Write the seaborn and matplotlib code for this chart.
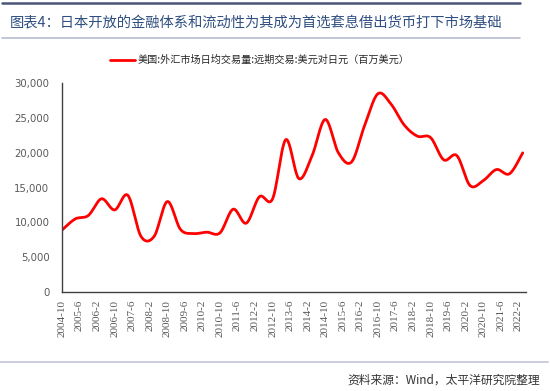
import numpy as np
import pandas as pd
import matplotlib
matplotlib.use("Agg")
import matplotlib.pyplot as plt
import seaborn as sns
from matplotlib.lines import Line2D
from matplotlib.ticker import FuncFormatter

# ── data (semi-annual survey, million USD) ──
periods = [
    "2004-10", "2005-4", "2005-10", "2006-4", "2006-10", "2007-4", "2007-10",
    "2008-4", "2008-10", "2009-4", "2009-10", "2010-4", "2010-10", "2011-4",
    "2011-10", "2012-4", "2012-10", "2013-4", "2013-10", "2014-4", "2014-10",
    "2015-4", "2015-10", "2016-4", "2016-10", "2017-4", "2017-10", "2018-4",
    "2018-10", "2019-4", "2019-10", "2020-4", "2020-10", "2021-4", "2021-10",
    "2022-4",
]
values = [
    8900, 10500, 11000, 13400, 11800, 13900, 8000,
    8000, 13000, 9000, 8400, 8600, 8500, 11900,
    9900, 13700, 13400, 21900, 16300, 19600, 24800,
    20000, 18700, 24000, 28500, 27000, 24000, 22400,
    22200, 19000, 19600, 15300, 16000, 17600, 17000,
    20000,
]
tick_labels = [
    "2004-10", "2005-6", "2006-2", "2006-10", "2007-6", "2008-2", "2008-10",
    "2009-6", "2010-2", "2010-10", "2011-6", "2012-2", "2012-10", "2013-6",
    "2014-2", "2014-10", "2015-6", "2016-2", "2016-10", "2017-6", "2018-2",
    "2018-10", "2019-6", "2020-2", "2020-10", "2021-6", "2022-2",
]
series_name = "美国:外汇市场日均交易量:远期交易:美元对日元（百万美元）"
title = "图表4：日本开放的金融体系和流动性为其成为首选套息借出货币打下市场基础"
source = "资料来源：Wind，太平洋研究院整理"

sns.set_theme(style="white")
plt.rcParams["font.family"] = ["Noto Sans CJK SC", "DejaVu Sans"]
plt.rcParams["hatch.color"] = "#e2e2e2"
plt.rcParams["hatch.linewidth"] = 0.8


def month_index(p, base="2004-10"):
    y, m = map(int, p.split("-"))
    by, bm = map(int, base.split("-"))
    return (y - by) * 12 + (m - bm)


def smooth(x, y, n=24):
    # Excel-style smoothed line drawn through the points (Catmull-Rom)
    px = np.concatenate([[x[0]], x, [x[-1]]])
    py = np.concatenate([[y[0]], y, [y[-1]]])
    t = np.linspace(0, 1, n, endpoint=False)
    xs, ys = [], []
    for i in range(1, len(px) - 2):
        for arr, out in ((px, xs), (py, ys)):
            p0, p1, p2, p3 = arr[i - 1], arr[i], arr[i + 1], arr[i + 2]
            out.extend(0.5 * (2 * p1 + (-p0 + p2) * t
                              + (2 * p0 - 5 * p1 + 4 * p2 - p3) * t ** 2
                              + (-p0 + 3 * p1 - 3 * p2 + p3) * t ** 3))
    xs.append(x[-1])
    ys.append(y[-1])
    return np.array(xs), np.array(ys)


x = np.array([month_index(p) for p in periods], float)
y = np.array(values, float)
sx, sy = smooth(x, y)
df = pd.DataFrame({"month": sx, "value": sy})

fig = plt.figure(figsize=(5.5, 3.91), dpi=100)
ax = fig.add_axes([62 / 550, 1 - 292 / 391, 464 / 550, (292 - 83.3) / 391])

ax.patch.set_facecolor("white")
ax.patch.set_hatch("////")

sns.lineplot(data=df, x="month", y="value", ax=ax, color="#ff0000",
             linewidth=2.0, sort=False, estimator=None, label=series_name)

tick_pos = [month_index(t) for t in tick_labels]
ax.set_xticks(tick_pos)
ax.set_xticklabels(tick_labels, rotation=90, fontsize=8, color="#595959")
for lbl in ax.get_xticklabels():
    lbl.set_fontfamily(["Liberation Serif"])
ax.set_xlim(0, 211.5)
ax.set_ylim(0, 30000)
ax.set_yticks(range(0, 30001, 5000))
ax.yaxis.set_major_formatter(FuncFormatter(lambda v, _: f"{int(v):,}"))
for lbl in ax.get_yticklabels():
    lbl.set_fontfamily(["DejaVu Sans"])
    lbl.set_fontsize(7.3)
    lbl.set_color("#595959")
ax.tick_params(axis="x", direction="out", length=3.5, width=0.8,
               color="#404040", pad=2)
ax.tick_params(axis="y", length=0, pad=9)
ax.set_xlabel("")
ax.set_ylabel("")
for side in ["top", "right"]:
    ax.spines[side].set_visible(False)
for side in ["left", "bottom"]:
    ax.spines[side].set_color("#404040")
    ax.spines[side].set_linewidth(1.0)

ax.get_legend().remove()
handles, labels = ax.get_legend_handles_labels()
fig.legend(handles, labels, loc="center", bbox_to_anchor=(260 / 550, 1 - 60 / 391),
           frameon=False, fontsize=7.3, handlelength=2.4, handletextpad=0.3)

# header / footer decoration
fig.add_artist(Line2D([2 / 550, 520 / 550], [1 - 3 / 391] * 2,
                      transform=fig.transFigure, color="#4a5478", lw=1.8))
fig.add_artist(Line2D([2 / 550, 520 / 550], [1 - 38 / 391] * 2,
                      transform=fig.transFigure, color="#b8bcd0", lw=1.2))
fig.add_artist(Line2D([0, 548 / 550], [1 - 362 / 391] * 2,
                      transform=fig.transFigure, color="#c4c4dc", lw=1.2))
fig.text(10 / 550, 1 - 22 / 391, title, fontsize=10.3, color="#2f4f80",
         va="center", ha="left")
fig.text(540 / 550, 1 - 380 / 391, source, fontsize=8.5, color="#333333",
         va="center", ha="right", style="italic")

fig.savefig("out.png", dpi=100)
